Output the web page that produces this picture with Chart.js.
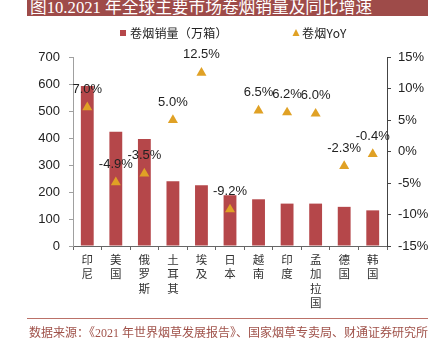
<!DOCTYPE html>
<html>
<head>
<meta charset="utf-8">
<script src="https://cdn.jsdelivr.net/npm/chart.js@4.4.1/dist/chart.umd.min.js"></script>
<style>
    html, body { margin: 0; padding: 0; background: #fff; }
    #wrap { position: relative; width: 437px; height: 350px; overflow: hidden; }
    #title {
        position: absolute; left: 27px; top: 0; width: 398px; height: 16px;
        padding-left: 3px; background: #9e4b49; color: #fff;
        font: 16.7px/16px "Liberation Serif", "Noto Sans CJK SC", serif;
        white-space: nowrap; overflow: hidden;
    }
    #rule { position: absolute; left: 27px; top: 318px; width: 401px; height: 1px; background: #bb7168; }
    #source {
        position: absolute; left: 29px; top: 326px; color: #a0524a;
        font: 12px/14px "Liberation Serif", "Noto Sans CJK SC", serif; white-space: nowrap;
    }
    canvas { position: absolute; left: 0; top: 0; }
</style>
</head>
<body>
<div id="wrap">
    <canvas id="chart" width="437" height="350"></canvas>
    <div id="title">图10.2021 年全球主要市场卷烟销量及同比增速</div>
    <div id="rule"></div>
    <div id="source">数据来源：《2021 年世界烟草发展报告》、国家烟草专卖局、财通证券研究所</div>
</div>
<script>
const countries = ['印尼', '美国', '俄罗斯', '土耳其', '埃及', '日本', '越南', '印度', '孟加拉国', '德国', '韩国'];
const sales = [593, 423, 396, 240, 225, 188, 173, 157, 157, 145, 132];
const yoy = [7.0, -4.9, -3.5, 5.0, 12.5, -9.2, 6.5, 6.2, 6.0, -2.3, -0.4];
const salesTicks = [0, 700, 100];
const yoyTicks = [-15, 15, 5];

const barColor = '#b5474a';
const triColor = '#e0a125';
const textColor = '#222';

// value labels above the triangles
const yoyLabels = {
    id: 'yoyLabels',
    afterDatasetsDraw(chart) {
        const ctx = chart.ctx;
        const meta = chart.getDatasetMeta(1);
        ctx.save();
        ctx.font = '13px "Liberation Sans", Arial, sans-serif';
        ctx.fillStyle = textColor;
        ctx.textAlign = 'center';
        ctx.textBaseline = 'middle';
        meta.data.forEach((pt, i) => {
            ctx.fillText(yoy[i].toFixed(1) + '%', pt.x, pt.y - 18);
        });
        ctx.restore();
    }
};

// CJK characters get a full em each, latin keeps its own width
function drawSpaced(ctx, text, x, y, em) {
    for (const ch of text) {
        ctx.fillText(ch, x, y);
        x += ch.charCodeAt(0) > 255 ? em : ctx.measureText(ch).width;
    }
}

// legend row under the title
const topLegend = {
    id: 'topLegend',
    afterDraw(chart) {
        const ctx = chart.ctx;
        const y = 33;
        ctx.save();
        ctx.font = '12px "Noto Sans CJK SC", sans-serif';
        ctx.textBaseline = 'middle';
        ctx.fillStyle = barColor;
        ctx.fillRect(120, y - 3, 6, 6);
        ctx.fillStyle = textColor;
        drawSpaced(ctx, chart.data.datasets[0].label, 130, y, 12.2);

        ctx.fillStyle = triColor;
        ctx.beginPath();
        ctx.moveTo(296, y - 4);
        ctx.lineTo(299.5, y + 3);
        ctx.lineTo(292.5, y + 3);
        ctx.closePath();
        ctx.fill();
        ctx.fillStyle = textColor;
        drawSpaced(ctx, chart.data.datasets[1].label, 302, y, 12.2);
        ctx.restore();
    }
};

new Chart(document.getElementById('chart'), {
    data: {
        labels: countries.map(c => c.split('')),
        datasets: [{
            type: 'bar',
            label: '卷烟销量（万箱）',
            data: sales,
            backgroundColor: barColor,
            barPercentage: 0.45,
            categoryPercentage: 1,
            yAxisID: 'y',
            order: 1
        }, {
            type: 'line',
            label: '卷烟YoY',
            data: yoy,
            showLine: false,
            pointStyle: 'triangle',
            pointRadius: 5.8,
            pointBackgroundColor: triColor,
            pointBorderWidth: 0,
            yAxisID: 'y1',
            order: 0
        }]
    },
    options: {
        responsive: false,
        animation: false,
        layout: { padding: { top: 57, left: 0, right: 0, bottom: 0 } },
        plugins: {
            legend: { display: false },
            tooltip: { enabled: false }
        },
        scales: {
            x: {
                grid: { drawOnChartArea: false, tickLength: 4, color: '#666' },
                border: { color: '#666' },
                ticks: {
                    color: '#333',
                    padding: 2,
                    maxRotation: 0,
                    autoSkip: false,
                    font: { family: '"Noto Sans CJK SC", sans-serif', size: 11.5, lineHeight: 1.26 }
                },
                afterFit: s => { s.height = 104; }
            },
            y: {
                position: 'left',
                min: salesTicks[0],
                max: salesTicks[1],
                ticks: {
                    stepSize: salesTicks[2],
                    color: textColor,
                    padding: 9,
                    font: { family: '"Liberation Sans", Arial, sans-serif', size: 13 }
                },
                grid: { drawOnChartArea: false, tickLength: 4, color: '#a0a0a0' },
                border: { color: '#a0a0a0' },
                afterFit: s => { s.width = 73; }
            },
            y1: {
                position: 'right',
                min: yoyTicks[0],
                max: yoyTicks[1],
                ticks: {
                    stepSize: yoyTicks[2],
                    color: textColor,
                    padding: 7,
                    font: { family: '"Liberation Sans", Arial, sans-serif', size: 13 },
                    callback: v => v + '%'
                },
                grid: { drawOnChartArea: false, tickLength: 4, color: '#444' },
                border: { color: '#444' },
                afterFit: s => { s.width = 50; }
            }
        }
    },
    plugins: [yoyLabels, topLegend]
});
</script>
</body>
</html>
